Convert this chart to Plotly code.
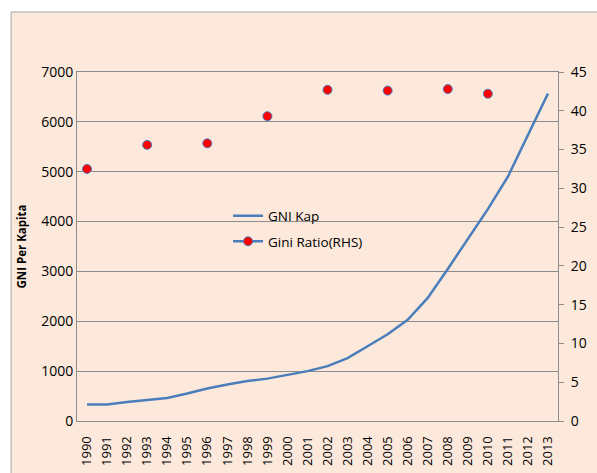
import plotly.graph_objects as go

# --- Data ---
years = [str(y) for y in range(1990, 2014)]

gni_kap = [330, 330, 380, 420, 460, 550, 650, 730, 800, 850, 920, 1000,
           1100, 1260, 1500, 1740, 2030, 2470, 3050, 3640, 4250, 4900, 5740, 6570]

gini_ratio = [32.5, None, None, 35.6, None, None, 35.8, None, None, 39.3, None, None,
              42.7, None, None, 42.6, None, None, 42.8, None, 42.2, None, None, None]

LINE_BLUE = "#4A7EBB"
FONT = "Open Sans"

fig = go.Figure()

fig.add_trace(go.Scatter(
    x=years, y=gni_kap, name="GNI Kap", mode="lines", legendgroup="gni",
    line=dict(color=LINE_BLUE, width=2.5),
))

# Excel style: isolated points, so no connecting line is drawn
fig.add_trace(go.Scatter(
    x=years, y=gini_ratio, name="Gini Ratio(RHS)", mode="lines+markers",
    yaxis="y2", connectgaps=False, legendgroup="gini",
    line=dict(color=LINE_BLUE, width=2.5),
    marker=dict(color="#FF0000", size=9, line=dict(color=LINE_BLUE, width=1)),
))

fig.update_layout(
    width=597, height=473,
    margin=dict(l=77, r=39, t=72, b=52, autoexpand=False),
    paper_bgcolor="white",
    plot_bgcolor="#E5E0EC",
    font=dict(family=FONT, color="#000000"),
    showlegend=True,
    legend=dict(x=0.314, y=0.632, xanchor="left", yanchor="top",
                bgcolor="rgba(0,0,0,0)", font=dict(size=13.5),
                tracegroupgap=5),
    xaxis=dict(type="category", range=[-0.5, len(years) - 0.5],
               tickangle=-90, tickfont=dict(size=13),
               showgrid=False, showline=True, linecolor="#8C8C8C", mirror=True,
               ticks="", ticklabelstandoff=9),
    yaxis=dict(range=[0, 7000], dtick=1000, tickfont=dict(size=14),
               showgrid=True, gridcolor="#8C8C8C", gridwidth=1,
               showline=True, linecolor="#8C8C8C", mirror=True, zeroline=False,
               title=dict(text="<b>GNI Per Kapita</b>", font=dict(size=11.5), standoff=12)),
    yaxis2=dict(range=[0, 45], dtick=5, overlaying="y", side="right",
                tickfont=dict(size=14), showgrid=False, zeroline=False,
                ticks="outside", ticklen=5, tickcolor="#8C8C8C",
                ticklabelstandoff=4),
    shapes=[dict(type="rect", xref="paper", yref="paper",
                 x0=-0.137, x1=1.2, y0=-0.3, y1=1.172,
                 fillcolor="#FCE9DB", line=dict(color="#A6A6A6", width=1),
                 layer="below")],
)

# drop the default page margin so the chart sits at the window's top-left corner
fig.write_html("out.html", config={"displayModeBar": False},
               post_script="document.body.style.margin='0';")
